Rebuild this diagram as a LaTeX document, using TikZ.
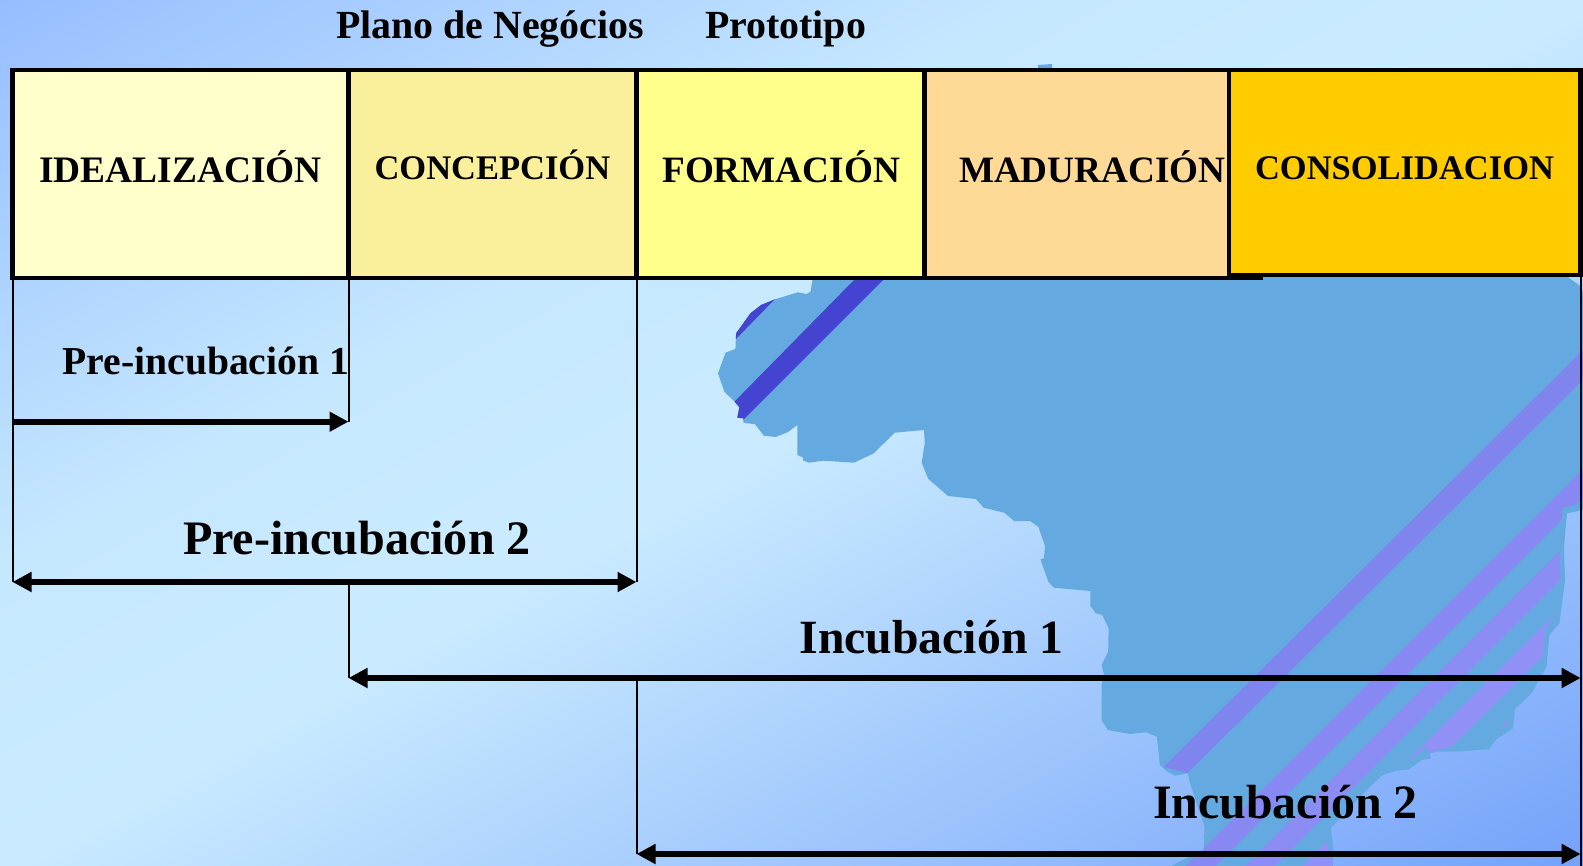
\documentclass[tikz,border=0pt]{standalone}
\usepackage{fontspec}
\setmainfont{Liberation Serif}
\usetikzlibrary{arrows.meta}
\definecolor{bgA}{HTML}{96BEFF}
\definecolor{bgM}{HTML}{C6E8FF}
\definecolor{bgB}{HTML}{CAEBFF}
\definecolor{bgC}{HTML}{75A2FA}
\definecolor{land}{HTML}{64AAE1}
\definecolor{boxA}{HTML}{FFFFCC}
\definecolor{boxB}{HTML}{FAF09C}
\definecolor{boxC}{HTML}{FFFF8B}
\definecolor{boxD}{HTML}{FFD996}
\definecolor{boxE}{HTML}{FFCC00}
\pgfdeclareverticalshading{bgsh}{100bp}{color(0bp)=(bgC); color(25bp)=(bgC); color(50bp)=(bgB); color(58.5bp)=(bgM); color(75bp)=(bgA); color(100bp)=(bgA)}
\tikzset{
  phase/.style={draw=black,line width=4.1pt,anchor=north west,inner sep=0pt,outer sep=0pt},
  lbl/.style={anchor=base west,inner sep=0pt,outer sep=0pt,text=black},
  guide/.style={draw=black,line width=2pt},
  span/.style={draw=black,line width=6pt,{Triangle[length=19pt,width=19pt]}-{Triangle[length=19pt,width=19pt]}},
  spanr/.style={draw=black,line width=6pt,-{Triangle[length=19pt,width=19pt]}}
}
\newcommand{\bft}[1]{\fontsize{#1}{#1}\selectfont\bfseries}
\begin{document}
\begin{tikzpicture}[x=1pt,y=-1pt]
\useasboundingbox (0,0) rectangle (1583,866);
% background
\begin{scope}
\clip (0,0) rectangle (1583,866);
\begin{scope}[transform canvas={rotate around={28.68:(791.5,433)}}]
\shade[shading=bgsh] (-111,-327) rectangle (1694,1193);
\end{scope}
\end{scope}
% land
\def\coast{(812.5,270) -- (812.5,280) -- (810.5,291.7) -- (806.5,294) -- (797.8,292.3) -- (774.9,299.3) -- (761,305) -- (750.4,313.3) -- (736.1,333.3) -- (735.4,349) -- (725.5,352.7) -- (718,373.3) -- (724.3,391.7) -- (734.6,401.7) -- (739.3,407.3) -- (737.3,417.7) -- (743.3,418.3) -- (743.3,422.7) -- (755.1,424.3) -- (763.8,435.7) -- (775.7,437) -- (787.6,432.3) -- (797.4,425) -- (797.4,455) -- (802.6,457.3) -- (803.4,460.7) -- (809.3,462.7) -- (823.1,460.7) -- (854,462.7) -- (873.8,453.3) -- (894.7,432.7) -- (924,430) -- (924.8,443.3) -- (921.6,462.7) -- (928.3,479) -- (948,496) -- (975.8,499) -- (983.7,507.7) -- (1004.2,512.7) -- (1014.1,521) -- (1030,521) -- (1038.3,526.7) -- (1045,546) -- (1043.9,558.3) -- (1040.5,559.3) -- (1048.3,581.7) -- (1053.9,587.7) -- (1090.3,591) -- (1090.3,606) -- (1095.9,613.3) -- (1102.2,615) -- (1108.6,628.3) -- (1108.2,651.7) -- (1101.5,665) -- (1104,675) -- (1101.5,685) -- (1101.5,720) -- (1107.8,730) -- (1130,734) -- (1146,732.3) -- (1156.9,736.7) -- (1159.9,765) -- (1167.3,771.7) -- (1174.7,775.7) -- (1187.7,773.3) -- (1190,783.3) -- (1204.5,826.7) -- (1203.7,850) -- (1171,866) -- (1332.7,866) -- (1333.5,850) -- (1330.9,828) -- (1336.4,821.7) -- (1371.7,785) -- (1382.9,775) -- (1395.9,770.7) -- (1408.9,769.3) -- (1421.9,760) -- (1431.2,758.3) -- (1429.4,753.3) -- (1436.8,751.7) -- (1455.4,751.7) -- (1488.9,749.3) -- (1496.3,739.3) -- (1513,728.3) -- (1514.9,709) -- (1531.6,693.3) -- (1546.5,666.7) -- (1549.4,635) -- (1559.5,623.3) -- (1565,580) -- (1564,546.7) -- (1566.9,513.3) -- (1583,510) -- (1583,292) -- (1579,285) -- (1569,278) -- (1569,270) -- cycle}
\fill[land] \coast;
\fill[land] (1038,69) -- (1038,65) -- (1052,64) -- (1052,69) -- cycle;
\begin{scope}
\clip \coast;
\fill[fill={rgb,255:red,68;green,68;blue,208}] (724.6,411.7) -- (854,280) -- (860,270) -- (893,270) -- (745,418) -- (735,428) -- cycle;
\fill[fill={rgb,255:red,68;green,68;blue,208}] (725,350) -- (736,339) -- (775,299) -- (775,290) -- (725,290) -- cycle;
\fill[fill={rgb,255:red,128;green,133;blue,238}] (1163.6,767) -- (1583,350) -- (1583,380) -- (1187.7,773) -- cycle;
\fill[fill={rgb,255:red,136;green,136;blue,242}] (1185.9,866) -- (1583,469) -- (1583,498) -- (1575,505) -- (1562,508) -- (1561.7,520) -- (1215.6,866) -- cycle;
\fill[fill={rgb,255:red,140;green,140;blue,245}] (1245.4,866) -- (1559.5,551.7) -- (1560.5,580) -- (1275,866) -- cycle;
\fill[fill={rgb,255:red,144;green,144;blue,247}] (1405.2,763.3) -- (1555.8,613.3) -- (1545.7,628.3) -- (1542.8,656.7) -- (1451.7,746.7) -- (1436,750) -- (1431,756) -- (1427.5,746.7) -- cycle;
\fill[fill={rgb,255:red,144;green,144;blue,247}] (1303,866) -- (1327.1,841.7) -- (1332.7,866) -- cycle;
\fill[fill={rgb,255:red,144;green,144;blue,247}] (1500,728) -- (1508,720) -- (1507,725) -- cycle;
\end{scope}
% phase boxes
\node[phase,fill=boxA,minimum width=336pt,minimum height=208.3pt] (idea) at (12.5,70) {};
\node[phase,fill=boxB,minimum width=288pt,minimum height=208.3pt] (conc) at (348.5,70) {};
\node[phase,fill=boxC,minimum width=288pt,minimum height=208.3pt] (form) at (636.5,70) {};
\node[phase,fill=boxD,minimum width=336pt,minimum height=208.3pt] (madu) at (924.5,70) {};
\node[phase,fill=boxE,minimum width=351.5pt,minimum height=205pt] (cons) at (1229,70) {};
% phase labels
\node[lbl,font=\bft{37.4}] (tidea) at (39.4,183) {IDEALIZACIÓN};
\node[lbl,font=\bft{34.5}] (tconc) at (374.5,180) {CONCEPCIÓN};
\node[lbl,font=\bft{37.2}] (tform) at (662.3,182.5) {FORMACIÓN};
\node[lbl,font=\bft{37.2}] (tmadu) at (959,182.5) {MADURACIÓN};
\node[lbl,font=\bft{34.5}] (tcons) at (1255,179.3) {CONSOLIDACION};
\node[lbl,font=\bft{39.9}] (tplano) at (336,38.4) {Plano de Negócios};
\node[lbl,font=\bft{39.9}] (tproto) at (705,38.4) {Prototipo};
% guide end points
\coordinate (a0) at (12.5,278);
\coordinate (a1) at (12.5,582);
\coordinate (p1s) at (12.5,421.7);
\coordinate (b0) at (348.5,278);
\coordinate (b1) at (348.5,421.7);
\coordinate (b2) at (348.5,582);
\coordinate (b3) at (348.5,678);
\coordinate (c0) at (636.5,278);
\coordinate (c1) at (636.5,582);
\coordinate (c2) at (636.5,678);
\coordinate (c3) at (636.5,854);
\coordinate (d0) at (1580.7,276);
\coordinate (d1) at (1580.7,678);
\coordinate (d2) at (1580.7,854);
\coordinate (d3) at (1580.7,866);
\draw[guide] (a0) -- (a1);
\draw[guide] (b0) -- (b1);
\draw[guide] (b2) -- (b3);
\draw[guide] (c0) -- (c1);
\draw[guide] (c2) -- (c3);
\draw[guide] (d0) -- (d3);
% spans
\draw[spanr] (p1s) -- (b1);
\draw[span] (a1) -- (c1);
\draw[span] (b3) -- (d1);
\draw[span] (c3) -- (d2);
\node[lbl,font=\bft{39.6}] (tp1) at (62.6,375) {Pre-incubación 1};
\node[lbl,font=\bft{48.1}] (tp2) at (183,554) {Pre-incubación 2};
\node[lbl,font=\bft{47.7}] (ti1) at (799.6,653.5) {Incubación 1};
\node[lbl,font=\bft{47.9}] (ti2) at (1153,818.3) {Incubación 2};
\end{tikzpicture}
\end{document}
